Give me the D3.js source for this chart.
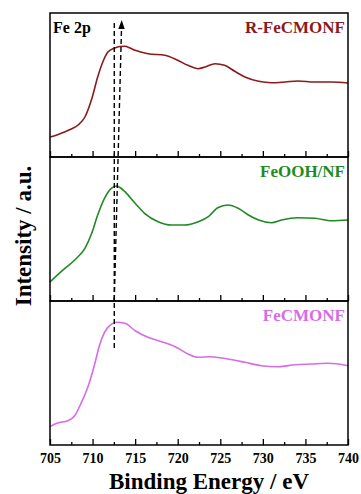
<!DOCTYPE html>
<html>
<head>
<meta charset="utf-8">
<script src="https://cdn.jsdelivr.net/npm/d3@7"></script>
<style>
  html, body { margin: 0; padding: 0; background: #fff; }
  svg { display: block; }
  text { font-family: "Liberation Serif", "Times New Roman", serif; font-weight: bold; }
</style>
</head>
<body>
<script>
// ---------- data ----------
const xTickValues = [705, 710, 715, 720, 725, 730, 735, 740];
const xMinorTicks = [707.5, 712.5, 717.5, 722.5, 727.5, 732.5, 737.5];

const seriesNames = ["R-FeCMONF", "FeOOH/NF", "FeCMONF"];
const seriesColors = ["#8b1a1a", "#1f8a24", "#d66ce6"];

// R-FeCMONF
const rEnergy    = [705, 705.8, 706.7, 707.5, 708.3, 709.1, 709.9, 710.6, 711.2, 711.8, 712.6, 713.2, 713.8, 714.4, 715, 716.5, 718.5, 720, 721.2, 722.4, 723.2, 724.4, 725.5, 726.7, 727.9, 729.5, 731, 732.6, 734.1, 736.1, 738.1, 740];
const rIntensity = [20, 22, 25, 28, 32, 40, 58, 80, 95, 105, 109, 110.5, 110.7, 109, 106.7, 103.3, 101.7, 96.7, 91.7, 88.3, 90, 93.3, 91.7, 85.7, 80, 75.7, 74.3, 75, 76, 75, 75, 74];

// FeOOH/NF
const fEnergy    = [705, 706.3, 707.9, 709.1, 709.9, 710.6, 711.4, 712.2, 712.8, 713.3, 713.8, 715, 716.1, 717.7, 719.3, 720.8, 722.4, 723.6, 724.7, 725.9, 727.1, 728.3, 729.5, 731, 732.2, 734.1, 736.1, 738.1, 740];
const fIntensity = [19, 29.3, 41, 52.7, 67.7, 86, 102.7, 112.7, 115, 113, 109.3, 97.7, 87.7, 79.3, 76, 76, 79.3, 84.3, 93.3, 96, 92.7, 86, 81, 78.3, 81, 83.3, 82.7, 80.3, 81];

// FeCMONF
const cEnergy    = [705, 705.9, 707.1, 707.9, 708.7, 709.5, 710.2, 710.8, 711.4, 712, 712.8, 713.8, 715, 716.5, 718.1, 719.7, 721.2, 722.4, 723.9, 725.9, 727.9, 729.8, 731.8, 733.8, 735.7, 737.7, 740];
const cIntensity = [18.5, 22, 24.3, 29.3, 42.7, 59.3, 79.3, 99.3, 112.7, 119.3, 122.7, 121.7, 114.3, 107.7, 103.3, 98.3, 91, 87.7, 88.3, 86, 82.7, 79.3, 78.3, 80.3, 81, 81.7, 79.3];

const peakEnergy = 712.55;     // dashed reference line
const shiftedEnergy = 713.4;   // arrow tip

// ---------- layout ----------
const W = 361, H = 494;
const mLeft = 50, mRight = 348, mTop = 13, mBottom = 445;
const panelH = (mBottom - mTop) / 3;

const svg = d3.select("body").append("svg").attr("width", W).attr("height", H);

const x = d3.scaleLinear().domain([705, 740]).range([mLeft, mRight]);

const series = [
  { name: seriesNames[0], color: seriesColors[0], e: rEnergy, v: rIntensity },
  { name: seriesNames[1], color: seriesColors[1], e: fEnergy, v: fIntensity },
  { name: seriesNames[2], color: seriesColors[2], e: cEnergy, v: cIntensity }
];

const yScales = [];
series.forEach((s, i) => {
  const pTop = mTop + i * panelH, pBot = pTop + panelH;
  const y = d3.scaleLinear().domain([0, panelH]).range([pBot, pTop]);
  yScales.push(y);
  const g = svg.append("g");

  // minor ticks
  g.append("g")
    .attr("transform", `translate(0,${pBot})`)
    .call(d3.axisBottom(x).tickValues(xMinorTicks).tickSize(-3).tickFormat(""))
    .call(a => a.select(".domain").remove())
    .call(a => a.selectAll("line").attr("stroke", "#000").attr("stroke-width", 1.3));

  // major ticks
  const major = g.append("g")
    .attr("transform", `translate(0,${pBot})`)
    .call(d3.axisBottom(x).tickValues(xTickValues).tickSize(-6).tickPadding(i === 2 ? 8 : 0)
      .tickFormat(i === 2 ? d3.format("d") : ""))
    .call(a => a.select(".domain").remove())
    .call(a => a.selectAll("line").attr("stroke", "#000").attr("stroke-width", 1.3));
  major.selectAll("text")
    .attr("font-size", 14).attr("fill", "#000")
    .attr("font-family", "Liberation Serif, Times New Roman, serif").attr("font-weight", "bold");

  const line = d3.line()
    .x((d, k) => x(s.e[k]))
    .y(d => y(d))
    .curve(d3.curveMonotoneX);

  g.append("path")
    .datum(s.v)
    .attr("d", line)
    .attr("fill", "none")
    .attr("stroke", s.color)
    .attr("stroke-width", 1.6);

  g.append("text")
    .attr("x", 345).attr("y", pTop + 20)
    .attr("text-anchor", "end")
    .attr("font-size", 17)
    .attr("fill", s.color)
    .text(s.name);

  // panel frame
  g.append("rect")
    .attr("x", mLeft).attr("y", pTop)
    .attr("width", mRight - mLeft).attr("height", panelH)
    .attr("fill", "none").attr("stroke", "#000").attr("stroke-width", 1.5);
});

// Fe 2p label
svg.append("text").attr("x", 53).attr("y", 33).attr("font-size", 16).attr("fill", "#000").text("Fe 2p");

// vertical dashed reference line
svg.append("line")
  .attr("x1", x(peakEnergy)).attr("x2", x(peakEnergy))
  .attr("y1", yScales[0](134)).attr("y2", yScales[2](96))
  .attr("stroke", "#000").attr("stroke-width", 1.4).attr("stroke-dasharray", "5,3");

// tilted dashed arrow
const ax1 = x(peakEnergy), ay1 = yScales[1](1);
const ax2 = x(shiftedEnergy), ay2 = yScales[0](129);
svg.append("line")
  .attr("x1", ax1).attr("y1", ay1).attr("x2", ax2).attr("y2", ay2)
  .attr("stroke", "#000").attr("stroke-width", 1.4).attr("stroke-dasharray", "5,3");
const ang = Math.atan2(ay2 - ay1, ax2 - ax1);
const tipY = yScales[0](137);
const tipX = ax2 + (tipY - ay2) / Math.tan(ang);
const hl = 9, hw = 3.2;
const bx = tipX - Math.cos(ang) * hl, by = tipY - Math.sin(ang) * hl;
const px = -Math.sin(ang) * hw, py = Math.cos(ang) * hw;
svg.append("path")
  .attr("d", `M${tipX},${tipY}L${bx + px},${by + py}L${bx - px},${by - py}Z`)
  .attr("fill", "#000");

// axis titles
svg.append("text")
  .attr("x", 209).attr("y", 489)
  .attr("text-anchor", "middle").attr("font-size", 23).attr("fill", "#000")
  .text("Binding Energy / eV");

svg.append("text")
  .attr("transform", "translate(31,236) rotate(-90)")
  .attr("text-anchor", "middle").attr("font-size", 23).attr("fill", "#000")
  .text("Intensity / a.u.");
</script>
</body>
</html>
